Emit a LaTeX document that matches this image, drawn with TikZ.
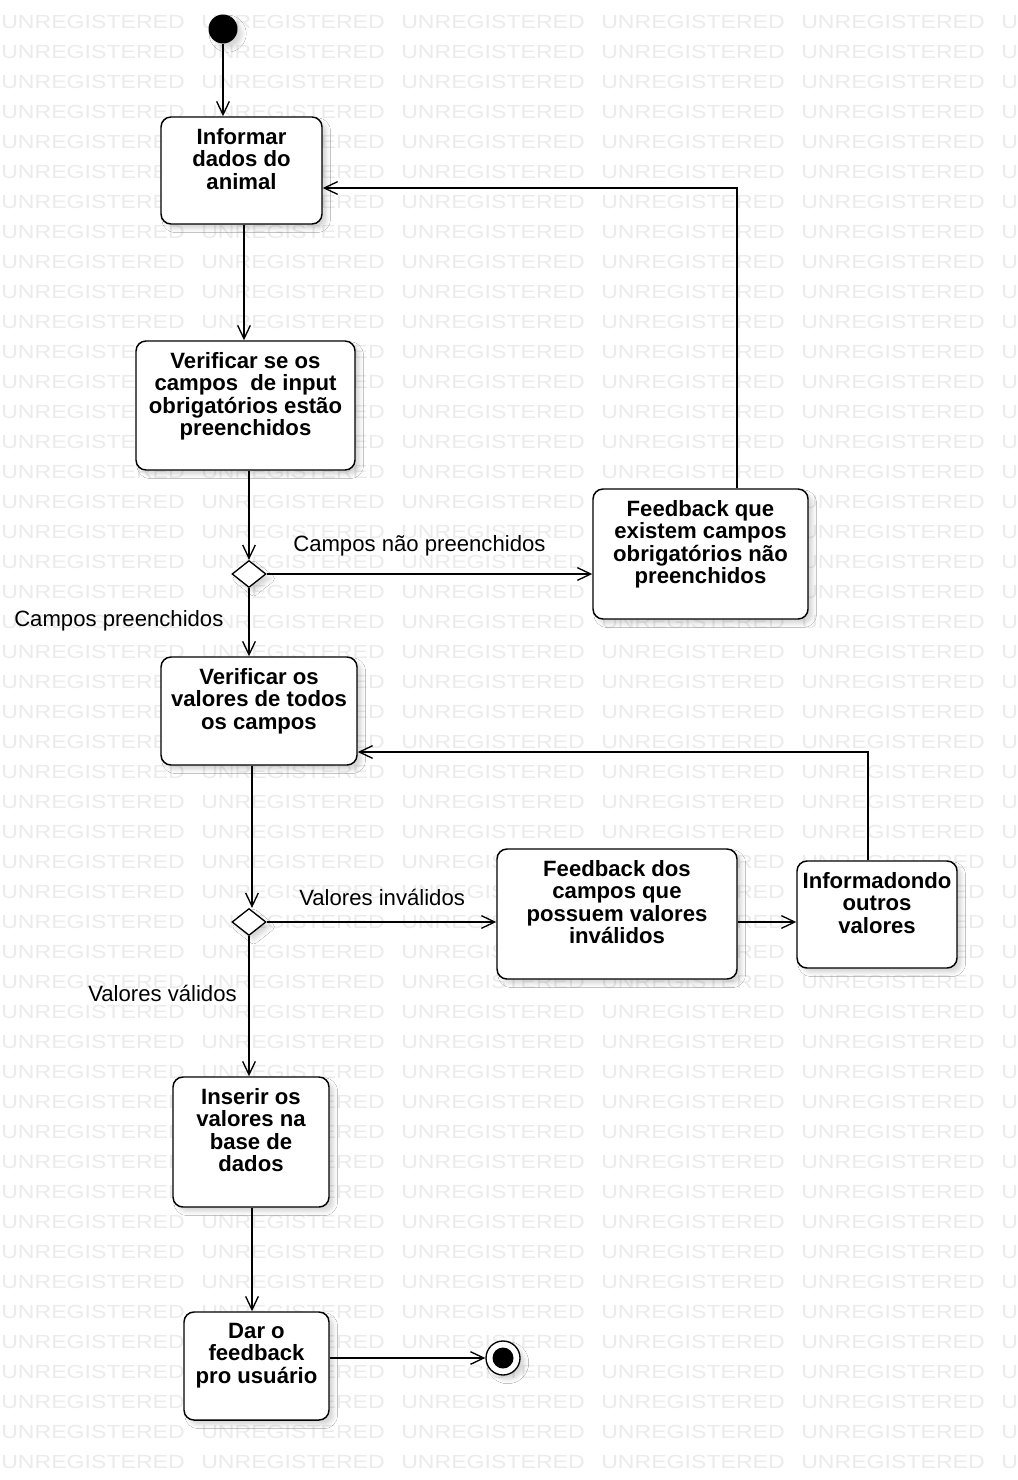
\documentclass[tikz,border=0pt]{standalone}
\usepackage{fontspec}
\setmainfont{Liberation Sans}
\usetikzlibrary{arrows.meta,shapes.geometric,fit,shadows.blur,calc}

\begin{document}
\begin{tikzpicture}[x=0.75pt,y=-0.75pt,
  softshadow/.style={blur shadow={shadow xshift=3.5pt, shadow yshift=-3.5pt, shadow opacity=16, shadow blur radius=3pt}},
  actbox/.style={draw=black, line width=1.1pt, fill=white, rounded corners=7.5pt, inner sep=0pt, softshadow},
  acttext/.style={anchor=north, align=center, inner sep=0pt,
    font=\bfseries\fontsize{16.6pt}{16.9pt}\selectfont,
    execute at begin node={\rule{0pt}{13pt}}},
  choice/.style={shape=diamond, draw=black, line width=1pt, fill=white,
    minimum width=25.5pt, minimum height=20.25pt, inner sep=0pt, softshadow},
  guard/.style={anchor=base west, inner sep=0pt, font=\fontsize{16.6pt}{18pt}\selectfont},
  flow/.style={draw=black, line width=1pt, -{Straight Barb[length=10pt,width=9.5pt]}},
  link/.style={draw=black, line width=1pt},
  wm/.style={anchor=base west, inner sep=0pt, text=black!8, font=\fontsize{14.2pt}{16pt}\selectfont}
]
\useasboundingbox (0,0) rectangle (1017,1480);
\fill[white] (0,0) rectangle (1017,1480);

% watermark grid
\begin{scope}
  \clip (0,0) rectangle (1017,1480);
  \foreach \r in {0,...,48}{
    \foreach \c in {0,...,5}{
      \node[wm] (wm-\r-\c) at ({1+200*\c},{28.5+30*\r}) {\scalebox{1.22}[1]{UNREGISTERED}};
    }
  }
\end{scope}

% start and end
\node[circle, fill=black, minimum size=21.75pt, inner sep=0pt, softshadow] (init) at (223,29) {};
\node[circle, draw=black, line width=1pt, fill=white, minimum size=25.5pt, inner sep=0pt, softshadow] (final) at (503,1358) {};
\node[circle, fill=black, minimum size=15.75pt, inner sep=0pt] (finalcore) at (final) {};

% activities
\node[actbox, fit={(161,117) (322,224)}] (b1) {};
\node[actbox, fit={(136,341) (355,470)}] (b2) {};
\node[actbox, fit={(593,489) (808,619)}] (fb1) {};
\node[actbox, fit={(161,657) (357,765)}] (b3) {};
\node[actbox, fit={(497,849) (737,979)}] (b4) {};
\node[actbox, fit={(797,861) (957,968)}] (b5) {};
\node[actbox, fit={(173,1077) (329,1207)}] (b6) {};
\node[actbox, fit={(184,1312) (329,1420)}] (b7) {};

\node[acttext] (b1t) at ($(b1.north)+(0,11.5)$) {Informar\\dados do\\animal};
\node[acttext] (b2t) at ($(b2.north)+(0,11.5)$) {Verificar se os\\campos\ \ de input\\obrigatórios estão\\preenchidos};
\node[acttext] (fb1t) at ($(fb1.north)+(0,11.5)$) {Feedback que\\existem campos\\obrigatórios não\\preenchidos};
\node[acttext] (b3t) at ($(b3.north)+(0,11.5)$) {Verificar os\\valores de todos\\os campos};
\node[acttext] (b4t) at ($(b4.north)+(0,11.5)$) {Feedback dos\\campos que\\possuem valores\\inválidos};
\node[acttext] (b5t) at ($(b5.north)+(0,11.5)$) {Informadondo\\outros\\valores};
\node[acttext] (b6t) at ($(b6.north)+(0,11.5)$) {Inserir os\\valores na\\base de\\dados};
\node[acttext] (b7t) at ($(b7.north)+(0,11.5)$) {Dar o\\feedback\\pro usuário};

% decisions
\node[choice] (d1) at (249,574) {};
\node[choice] (d2) at (249,922) {};

% guard labels
\node[guard] (g1) at (293,551.5) {Campos não preenchidos};
\node[guard] (g2) at (14,626.5) {Campos preenchidos};
\node[guard] (g3) at (299,905) {Valores inválidos};
\node[guard] (g4) at (88,1001) {Valores válidos};

% helper columns and rows
\coordinate (x244) at (244,0);
\coordinate (x252) at (252,0);
\coordinate (x737) at (737,0);
\coordinate (x868) at (868,0);
\coordinate (y188) at (0,188);
\coordinate (y752) at (0,752);

% flows
\draw[flow] (init) -- (init |- b1.north);
\draw[flow] (x244 |- b1.south) -- (x244 |- b2.north);
\draw[flow] (d1.north |- b2.south) -- (d1.north);
\draw[flow] (d1.east) -- (fb1.west |- d1.east);
\draw[flow] (x737 |- fb1.north) |- (b1.east |- y188);
\draw[flow] (d1.south) -- (d1.south |- b3.north);
\draw[flow] (x252 |- b3.south) -- (x252 |- d2.north);
\draw[flow] (d2.east) -- (b4.west |- d2.east);
\draw[flow] (b4.east |- d2.east) -- (b5.west |- d2.east);
\draw[flow] (x868 |- b5.north) |- (b3.east |- y752);
\draw[flow] (d2.south) -- (d2.south |- b6.north);
\draw[flow] (x252 |- b6.south) -- (x252 |- b7.north);
\draw[flow] (b7.east |- final) -- (final.west);
\end{tikzpicture}
\end{document}
